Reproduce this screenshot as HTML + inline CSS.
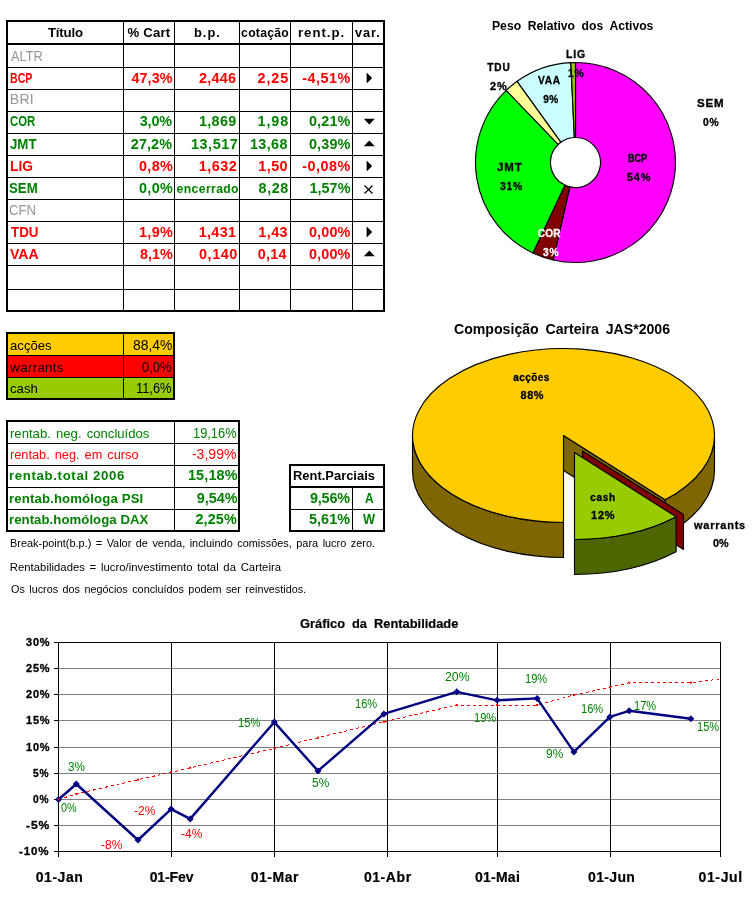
<!DOCTYPE html>
<html lang="pt"><head><meta charset="utf-8"><title>Carteira JAS*2006</title>
<style>
html,body{margin:0;padding:0;background:#fff;}
body{width:755px;height:900px;position:relative;overflow:hidden;font-family:"Liberation Sans",sans-serif;color:#000;}
.l{position:absolute;background:#000;}
.t{position:absolute;white-space:nowrap;line-height:1;transform-origin:0 0;font-family:"Liberation Sans",sans-serif;}
.f{position:absolute;}
svg{position:absolute;left:0;top:0;overflow:visible;}
</style></head>
<body>
<main>
<section id="tabela" aria-label="Tabela de títulos">
<div class="l" style="left:6px;top:20px;width:379px;height:2px;"></div>
<div class="l" style="left:6px;top:310px;width:379px;height:2px;"></div>
<div class="l" style="left:6px;top:20px;width:2px;height:292px;"></div>
<div class="l" style="left:383px;top:20px;width:2px;height:292px;"></div>
<div class="l" style="left:8px;top:43px;width:375px;height:2px;"></div>
<div class="l" style="left:8px;top:67px;width:375px;height:1px;"></div>
<div class="l" style="left:8px;top:89px;width:375px;height:1px;"></div>
<div class="l" style="left:8px;top:111px;width:375px;height:1px;"></div>
<div class="l" style="left:8px;top:133px;width:375px;height:1px;"></div>
<div class="l" style="left:8px;top:155px;width:375px;height:1px;"></div>
<div class="l" style="left:8px;top:177px;width:375px;height:1px;"></div>
<div class="l" style="left:8px;top:199px;width:375px;height:1px;"></div>
<div class="l" style="left:8px;top:221px;width:375px;height:1px;"></div>
<div class="l" style="left:8px;top:243px;width:375px;height:1px;"></div>
<div class="l" style="left:8px;top:265px;width:375px;height:1px;"></div>
<div class="l" style="left:8px;top:289px;width:375px;height:1px;"></div>
<div class="l" style="left:123px;top:22px;width:1px;height:288px;"></div>
<div class="l" style="left:174px;top:22px;width:1px;height:288px;"></div>
<div class="l" style="left:239px;top:22px;width:1px;height:288px;"></div>
<div class="l" style="left:290px;top:22px;width:1px;height:288px;"></div>
<div class="l" style="left:352px;top:22px;width:1px;height:288px;"></div>
<svg width="755" height="900" viewBox="0 0 755 900">
<polygon points="366.6,72.6 372.2,78 366.6,83.4" fill="#000"/>
<polygon points="363.8,118.8 374.8,118.8 369.3,124.39999999999999" fill="#000"/>
<polygon points="363.8,146.2 374.8,146.2 369.3,140.6" fill="#000"/>
<polygon points="366.6,160.6 372.2,166 366.6,171.4" fill="#000"/>
<path d="M364.5,185.5 L372.5,193.5 M372.5,185.5 L364.5,193.5" stroke="#000" stroke-width="1.2" fill="none"/>
<polygon points="366.6,226.6 372.2,232 366.6,237.4" fill="#000"/>
<polygon points="363.8,256.2 374.8,256.2 369.3,250.6" fill="#000"/>
</svg>
<div class="t" style="left:47.9px;top:26px;font-size:13.2px;font-weight:bold;letter-spacing:-0.16px;">Título</div>
<div class="t" style="left:127.4px;top:26px;font-size:13.2px;font-weight:bold;letter-spacing:0.22px;">% Cart</div>
<div class="t" style="left:194.0px;top:27px;font-size:12.2px;font-weight:bold;letter-spacing:0.91px;transform:scaleX(1.0596);">b.p.</div>
<div class="t" style="left:241.1px;top:27px;font-size:12.2px;font-weight:bold;letter-spacing:0.27px;">cotação</div>
<div class="t" style="left:297.7px;top:27px;font-size:12.2px;font-weight:bold;letter-spacing:0.91px;transform:scaleX(1.0799);">rent.p.</div>
<div class="t" style="left:355.0px;top:27px;font-size:12.2px;font-weight:bold;letter-spacing:0.91px;transform:scaleX(1.0464);">var.</div>
<div class="t" style="left:11.1px;top:49px;font-size:14px;color:#969696;transform:scaleX(0.9118);">ALTR</div>
<div class="t" style="left:9.7px;top:71px;font-size:14.4px;font-weight:bold;color:#ff0000;transform:scaleX(0.7345);">BCP</div>
<div class="t" style="left:9.7px;top:92px;font-size:14px;color:#969696;letter-spacing:0.35px;">BRI</div>
<div class="t" style="left:10.0px;top:114px;font-size:14.4px;font-weight:bold;color:#008000;transform:scaleX(0.7902);">COR</div>
<div class="t" style="left:10.3px;top:137px;font-size:14.4px;font-weight:bold;color:#008000;transform:scaleX(0.9207);">JMT</div>
<div class="t" style="left:9.7px;top:159px;font-size:14.4px;font-weight:bold;color:#ff0000;transform:scaleX(0.9556);">LIG</div>
<div class="t" style="left:9.3px;top:181px;font-size:14.4px;font-weight:bold;color:#008000;transform:scaleX(0.9207);">SEM</div>
<div class="t" style="left:9.0px;top:203px;font-size:14px;color:#969696;transform:scaleX(0.937);">CFN</div>
<div class="t" style="left:10.5px;top:225px;font-size:14.4px;font-weight:bold;color:#ff0000;transform:scaleX(0.9317);">TDU</div>
<div class="t" style="left:10.3px;top:247px;font-size:14.4px;font-weight:bold;color:#ff0000;transform:scaleX(0.9799);">VAA</div>
<div class="t" style="left:131.4px;top:71px;font-size:14.4px;font-weight:bold;color:#ff0000;letter-spacing:0.1px;">47,3%</div>
<div class="t" style="left:198.9px;top:71px;font-size:14.4px;font-weight:bold;color:#ff0000;letter-spacing:0.27px;">2,446</div>
<div class="t" style="left:257.6px;top:71px;font-size:14.4px;font-weight:bold;color:#ff0000;letter-spacing:0.87px;">2,25</div>
<div class="t" style="left:302.3px;top:71px;font-size:14.4px;font-weight:bold;color:#ff0000;letter-spacing:0.46px;">-4,51%</div>
<div class="t" style="left:139.8px;top:114px;font-size:14.4px;font-weight:bold;color:#008000;letter-spacing:-0.2px;">3,0%</div>
<div class="t" style="left:199.0px;top:114px;font-size:14.4px;font-weight:bold;color:#008000;letter-spacing:0.3px;">1,869</div>
<div class="t" style="left:257.6px;top:114px;font-size:14.4px;font-weight:bold;color:#008000;letter-spacing:0.87px;">1,98</div>
<div class="t" style="left:308.9px;top:114px;font-size:14.4px;font-weight:bold;color:#008000;letter-spacing:0.18px;">0,21%</div>
<div class="t" style="left:130.8px;top:137px;font-size:14.4px;font-weight:bold;color:#008000;letter-spacing:0.1px;">27,2%</div>
<div class="t" style="left:190.9px;top:137px;font-size:14.4px;font-weight:bold;color:#008000;letter-spacing:0.58px;">13,517</div>
<div class="t" style="left:250.0px;top:137px;font-size:14.4px;font-weight:bold;color:#008000;letter-spacing:0.35px;">13,68</div>
<div class="t" style="left:308.9px;top:137px;font-size:14.4px;font-weight:bold;color:#008000;letter-spacing:0.18px;">0,39%</div>
<div class="t" style="left:139.0px;top:159px;font-size:14.4px;font-weight:bold;color:#ff0000;letter-spacing:0.33px;">0,8%</div>
<div class="t" style="left:198.7px;top:159px;font-size:14.4px;font-weight:bold;color:#ff0000;letter-spacing:0.5px;">1,632</div>
<div class="t" style="left:258.2px;top:159px;font-size:14.4px;font-weight:bold;color:#ff0000;letter-spacing:0.47px;">1,50</div>
<div class="t" style="left:302.3px;top:159px;font-size:14.4px;font-weight:bold;color:#ff0000;letter-spacing:0.46px;">-0,08%</div>
<div class="t" style="left:139.0px;top:181px;font-size:14.4px;font-weight:bold;color:#008000;letter-spacing:0.33px;">0,0%</div>
<div class="t" style="left:176.6px;top:183px;font-size:12.2px;font-weight:bold;color:#008000;letter-spacing:0.38px;">encerrado</div>
<div class="t" style="left:258.6px;top:181px;font-size:14.4px;font-weight:bold;color:#008000;letter-spacing:0.53px;">8,28</div>
<div class="t" style="left:309.5px;top:181px;font-size:14.4px;font-weight:bold;color:#008000;letter-spacing:0.03px;">1,57%</div>
<div class="t" style="left:139.0px;top:225px;font-size:14.4px;font-weight:bold;color:#ff0000;letter-spacing:0.33px;">1,9%</div>
<div class="t" style="left:198.7px;top:225px;font-size:14.4px;font-weight:bold;color:#ff0000;letter-spacing:0.33px;">1,431</div>
<div class="t" style="left:258.2px;top:225px;font-size:14.4px;font-weight:bold;color:#ff0000;letter-spacing:0.47px;">1,43</div>
<div class="t" style="left:308.9px;top:225px;font-size:14.4px;font-weight:bold;color:#ff0000;letter-spacing:0.18px;">0,00%</div>
<div class="t" style="left:140.0px;top:247px;font-size:14.4px;font-weight:bold;color:#ff0000;">8,1%</div>
<div class="t" style="left:199.1px;top:247px;font-size:14.4px;font-weight:bold;color:#ff0000;letter-spacing:0.52px;">0,140</div>
<div class="t" style="left:257.8px;top:247px;font-size:14.4px;font-weight:bold;color:#ff0000;letter-spacing:0.27px;">0,14</div>
<div class="t" style="left:308.9px;top:247px;font-size:14.4px;font-weight:bold;color:#ff0000;letter-spacing:0.18px;">0,00%</div>
</section>
<section id="composicao" aria-label="Composição da carteira">
<div class="f" style="left:8px;top:334px;width:165px;height:21px;background:#ffcc00;"></div>
<div class="f" style="left:8px;top:356px;width:165px;height:21px;background:#ff0000;"></div>
<div class="f" style="left:8px;top:378px;width:165px;height:20px;background:#99cc00;"></div>
<div class="l" style="left:6px;top:332px;width:169px;height:2px;"></div>
<div class="l" style="left:6px;top:398px;width:169px;height:2px;"></div>
<div class="l" style="left:6px;top:332px;width:2px;height:68px;"></div>
<div class="l" style="left:173px;top:332px;width:2px;height:68px;"></div>
<div class="l" style="left:8px;top:355px;width:165px;height:1px;"></div>
<div class="l" style="left:8px;top:377px;width:165px;height:1px;"></div>
<div class="l" style="left:123px;top:334px;width:1px;height:64px;"></div>
<div class="t" style="left:9.7px;top:339px;font-size:13.33px;transform:scaleX(0.9857);">acções</div>
<div class="t" style="left:10.3px;top:361px;font-size:13.33px;letter-spacing:0.3px;">warrants</div>
<div class="t" style="left:9.7px;top:382px;font-size:13.33px;transform:scaleX(0.9923);">cash</div>
<div class="t" style="left:132.5px;top:338px;font-size:14px;transform:scaleX(0.9921);">88,4%</div>
<div class="t" style="left:141.8px;top:360px;font-size:14px;transform:scaleX(0.9294);">0,0%</div>
<div class="t" style="left:136.3px;top:381px;font-size:14px;transform:scaleX(0.9162);">11,6%</div>
</section>
<section id="rentab" aria-label="Rentabilidades">
<div class="l" style="left:6px;top:420px;width:234px;height:2px;"></div>
<div class="l" style="left:6px;top:530px;width:234px;height:2px;"></div>
<div class="l" style="left:6px;top:420px;width:2px;height:112px;"></div>
<div class="l" style="left:238px;top:420px;width:2px;height:112px;"></div>
<div class="l" style="left:8px;top:443px;width:230px;height:1px;"></div>
<div class="l" style="left:8px;top:465px;width:230px;height:1px;"></div>
<div class="l" style="left:8px;top:487px;width:230px;height:1px;"></div>
<div class="l" style="left:8px;top:509px;width:230px;height:1px;"></div>
<div class="l" style="left:174px;top:422px;width:1px;height:108px;"></div>
<div class="l" style="left:289px;top:464px;width:96px;height:2px;"></div>
<div class="l" style="left:289px;top:530px;width:96px;height:2px;"></div>
<div class="l" style="left:289px;top:464px;width:2px;height:68px;"></div>
<div class="l" style="left:383px;top:464px;width:2px;height:68px;"></div>
<div class="l" style="left:291px;top:486px;width:92px;height:2px;"></div>
<div class="l" style="left:291px;top:509px;width:92px;height:1px;"></div>
<div class="l" style="left:352px;top:488px;width:1px;height:42px;"></div>
<div class="t" style="left:9.6px;top:427px;font-size:13.33px;color:#008000;word-spacing:1.5px;transform:scaleX(0.985);">rentab. neg. concluídos</div>
<div class="t" style="left:9.6px;top:448px;font-size:13.33px;color:#ff0000;word-spacing:1.5px;transform:scaleX(0.9579);">rentab. neg. em curso</div>
<div class="t" style="left:9.0px;top:469px;font-size:13.2px;font-weight:bold;color:#008000;letter-spacing:0.66px;">rentab.total 2006</div>
<div class="t" style="left:9.0px;top:492px;font-size:13.2px;font-weight:bold;color:#008000;letter-spacing:0.13px;">rentab.homóloga PSI</div>
<div class="t" style="left:9.0px;top:513px;font-size:13.2px;font-weight:bold;color:#008000;letter-spacing:0.05px;">rentab.homóloga DAX</div>
<div class="t" style="left:192.9px;top:426px;font-size:14px;color:#008000;transform:scaleX(0.9174);">19,16%</div>
<div class="t" style="left:191.9px;top:447px;font-size:14px;color:#ff0000;letter-spacing:0.04px;">-3,99%</div>
<div class="t" style="left:187.9px;top:468px;font-size:14.4px;font-weight:bold;color:#008000;letter-spacing:0.18px;">15,18%</div>
<div class="t" style="left:196.8px;top:491px;font-size:14.4px;font-weight:bold;color:#008000;">9,54%</div>
<div class="t" style="left:195.4px;top:512px;font-size:14.4px;font-weight:bold;color:#008000;letter-spacing:0.15px;">2,25%</div>
<div class="t" style="left:292.8px;top:469px;font-size:13.2px;font-weight:bold;transform:scaleX(0.9805);">Rent.Parciais</div>
<div class="t" style="left:309.9px;top:491px;font-size:14.4px;font-weight:bold;color:#008000;letter-spacing:-0.15px;">9,56%</div>
<div class="t" style="left:365.0px;top:491px;font-size:14.4px;font-weight:bold;color:#008000;transform:scaleX(0.83);">A</div>
<div class="t" style="left:308.9px;top:512px;font-size:14.4px;font-weight:bold;color:#008000;letter-spacing:0.1px;">5,61%</div>
<div class="t" style="left:363.0px;top:512px;font-size:14.4px;font-weight:bold;color:#008000;transform:scaleX(0.8857);">W</div>
</section>
<section id="notas" aria-label="Notas">
<div class="t" style="left:9.8px;top:538px;font-size:11.3px;word-spacing:1.5px;transform:scaleX(0.9662);">Break-point(b.p.) = Valor de venda, incluindo comissões, para lucro zero.</div>
<div class="t" style="left:9.8px;top:562px;font-size:11.3px;letter-spacing:0.03px;word-spacing:1.5px;">Rentabilidades = lucro/investimento total da Carteira</div>
<div class="t" style="left:10.8px;top:584px;font-size:11.3px;word-spacing:1.5px;transform:scaleX(0.9577);">Os lucros dos negócios concluídos podem ser reinvestidos.</div>
</section>
<section id="donut" aria-label="Peso Relativo dos Activos">
<svg width="755" height="900" viewBox="0 0 755 900">
<g stroke="#000" stroke-width="1.15" stroke-linejoin="round">
<path d="M575.50,62.50 A100,100 0 1 1 553.09,259.96 L569.90,186.86 A25,25 0 1 0 575.50,137.50 Z" fill="#ff00ff"/>
<path d="M553.09,259.96 A100,100 0 0 1 532.94,252.99 L564.86,185.12 A25,25 0 0 0 569.90,186.86 Z" fill="#800000"/>
<path d="M532.94,252.99 A100,100 0 0 1 506.22,90.39 L558.18,144.47 A25,25 0 0 0 564.86,185.12 Z" fill="#00ff00"/>
<path d="M506.22,90.39 A100,100 0 0 1 517.15,81.29 L560.91,142.20 A25,25 0 0 0 558.18,144.47 Z" fill="#ffff99"/>
<path d="M517.15,81.29 A100,100 0 0 1 570.87,62.61 L574.34,137.53 A25,25 0 0 0 560.91,142.20 Z" fill="#ccffff"/>
<path d="M570.87,62.61 A100,100 0 0 1 575.50,62.50 L575.50,137.50 A25,25 0 0 0 574.34,137.53 Z" fill="#99cc00"/>
</g>
</svg>
<div class="t" style="left:491.8px;top:19px;font-size:13.3px;font-weight:bold;word-spacing:3.5px;transform:scaleX(0.9155);">Peso Relativo dos Activos</div>
<div class="t" style="left:566.0px;top:50px;font-size:10.1px;font-weight:bold;letter-spacing:0.76px;-webkit-text-stroke:0.3px;transform:scaleX(1.0381);">LIG</div>
<div class="t" style="left:568.3px;top:69px;font-size:10.1px;font-weight:bold;letter-spacing:0.76px;-webkit-text-stroke:0.3px;transform:scaleX(1.0344);">1%</div>
<div class="t" style="left:487.3px;top:63px;font-size:10.1px;font-weight:bold;letter-spacing:0.9px;-webkit-text-stroke:0.3px;">TDU</div>
<div class="t" style="left:490.1px;top:82px;font-size:10.1px;font-weight:bold;letter-spacing:0.76px;-webkit-text-stroke:0.3px;transform:scaleX(1.0808);">2%</div>
<div class="t" style="left:538.4px;top:76px;font-size:10.1px;font-weight:bold;letter-spacing:0.76px;-webkit-text-stroke:0.3px;transform:scaleX(1.004);">VAA</div>
<div class="t" style="left:543.2px;top:95px;font-size:10.1px;font-weight:bold;letter-spacing:0.4px;-webkit-text-stroke:0.3px;">9%</div>
<div class="t" style="left:697.1px;top:99px;font-size:10.1px;font-weight:bold;letter-spacing:0.76px;-webkit-text-stroke:0.3px;transform:scaleX(1.1411);">SEM</div>
<div class="t" style="left:702.9px;top:118px;font-size:10.1px;font-weight:bold;letter-spacing:0.76px;-webkit-text-stroke:0.3px;transform:scaleX(1.0217);">0%</div>
<div class="t" style="left:627.9px;top:154px;font-size:10.1px;font-weight:bold;-webkit-text-stroke:0.3px;transform:scaleX(0.9);">BCP</div>
<div class="t" style="left:626.9px;top:173px;font-size:10.1px;font-weight:bold;letter-spacing:0.76px;-webkit-text-stroke:0.3px;transform:scaleX(1.0737);">54%</div>
<div class="t" style="left:497.3px;top:163px;font-size:10.1px;font-weight:bold;letter-spacing:0.76px;-webkit-text-stroke:0.3px;transform:scaleX(1.1352);">JMT</div>
<div class="t" style="left:500.0px;top:182px;font-size:10.1px;font-weight:bold;letter-spacing:0.76px;-webkit-text-stroke:0.3px;transform:scaleX(1.0236);">31%</div>
<div class="t" style="left:537.8px;top:229px;font-size:10.1px;font-weight:bold;color:#ffffff;letter-spacing:0.1px;-webkit-text-stroke:0.3px;">COR</div>
<div class="t" style="left:542.9px;top:248px;font-size:10.1px;font-weight:bold;color:#ffffff;letter-spacing:0.76px;-webkit-text-stroke:0.3px;transform:scaleX(1.009);">3%</div>
</section>
<section id="pie" aria-label="Composição Carteira">
<svg width="755" height="900" viewBox="0 0 755 900">
<g stroke="#000" stroke-width="1.15" stroke-linejoin="round">
<path d="M412.5,435.5 A151,87 0 0 0 563.5,522.5 L563.5,557.5 A151,87 0 0 1 412.5,470.5 Z" fill="#806600"/>
<path d="M665.12,499.85 A151,87 0 0 0 714.5,435.5 L714.5,470.5 A151,87 0 0 1 665.12,534.85 Z" fill="#806600"/>
<polygon points="563.5,435.5 665.12,499.85 665.12,534.85 563.5,470.5" fill="#806600"/>
<path d="M563.5,435.5 L563.5,522.5 A151,87 0 1 1 665.12,499.85 Z" fill="#ffcc00"/>
<polygon points="582.5,451 683.5,514.4 683.5,549.4 582.5,486" fill="#800000"/>
<path d="M574.5,539.5 A151,87 0 0 0 676.12,516.85 L676.12,551.85 A151,87 0 0 1 574.5,574.5 Z" fill="#4d6600"/>
<path d="M574.5,452.5 L574.5,539.5 A151,87 0 0 0 676.12,516.85 Z" fill="#99cc00"/>
</g>
</svg>
<div class="t" style="left:454.3px;top:322px;font-size:14.6px;font-weight:bold;word-spacing:3px;transform:scaleX(0.9671);">Composição Carteira JAS*2006</div>
<div class="t" style="left:513.2px;top:373px;font-size:10px;font-weight:bold;letter-spacing:0.46px;-webkit-text-stroke:0.3px;">acções</div>
<div class="t" style="left:520.6px;top:390px;font-size:10.9px;font-weight:bold;letter-spacing:0.5px;-webkit-text-stroke:0.3px;">88%</div>
<div class="t" style="left:590.3px;top:493px;font-size:10px;font-weight:bold;letter-spacing:0.7px;-webkit-text-stroke:0.3px;">cash</div>
<div class="t" style="left:590.8px;top:510px;font-size:10.9px;font-weight:bold;letter-spacing:0.82px;-webkit-text-stroke:0.3px;transform:scaleX(1.007);">12%</div>
<div class="t" style="left:693.8px;top:521px;font-size:10px;font-weight:bold;letter-spacing:0.75px;-webkit-text-stroke:0.3px;transform:scaleX(1.09);">warrants</div>
<div class="t" style="left:713.0px;top:538px;font-size:10.9px;font-weight:bold;-webkit-text-stroke:0.3px;transform:scaleX(0.9875);">0%</div>
</section>
<section id="linha" aria-label="Gráfico da Rentabilidade">
<svg width="755" height="900" viewBox="0 0 755 900">
<g shape-rendering="crispEdges">
<rect x="58" y="668" width="663" height="1" fill="#808080"/>
<rect x="58" y="694" width="663" height="1" fill="#808080"/>
<rect x="58" y="720" width="663" height="1" fill="#808080"/>
<rect x="58" y="747" width="663" height="1" fill="#808080"/>
<rect x="58" y="773" width="663" height="1" fill="#808080"/>
<rect x="58" y="799" width="663" height="1" fill="#808080"/>
<rect x="58" y="825" width="663" height="1" fill="#808080"/>
<rect x="58" y="642" width="1" height="215" fill="#000"/>
<rect x="171" y="642" width="1" height="215" fill="#000"/>
<rect x="274" y="642" width="1" height="215" fill="#000"/>
<rect x="387" y="642" width="1" height="215" fill="#000"/>
<rect x="497" y="642" width="1" height="215" fill="#000"/>
<rect x="610" y="642" width="1" height="215" fill="#000"/>
<rect x="720" y="642" width="1" height="215" fill="#000"/>
<rect x="58" y="642" width="663" height="1" fill="#000"/>
<rect x="58" y="851" width="663" height="1" fill="#000"/>
<rect x="54" y="642" width="4" height="1" fill="#000"/>
<rect x="54" y="668" width="4" height="1" fill="#000"/>
<rect x="54" y="694" width="4" height="1" fill="#000"/>
<rect x="54" y="720" width="4" height="1" fill="#000"/>
<rect x="54" y="747" width="4" height="1" fill="#000"/>
<rect x="54" y="773" width="4" height="1" fill="#000"/>
<rect x="54" y="799" width="4" height="1" fill="#000"/>
<rect x="54" y="825" width="4" height="1" fill="#000"/>
<rect x="54" y="851" width="4" height="1" fill="#000"/>
</g>
<polyline points="58.5,799.5 76.3,794.0 138,779.7 171.1,772.3 190.2,767.8 274.5,748.3 318,737.7 383.9,721.9 456.8,705 497.1,705 537.1,705 573.9,695 609.9,687.3 629.2,682.7 690.9,682.7 720.8,678.8" fill="none" stroke="#ff0000" stroke-width="1" stroke-dasharray="3,3" shape-rendering="crispEdges"/>
<rect x="57.5" y="798.5" width="2" height="2" fill="#ff0000"/>
<rect x="75.3" y="793.0" width="2" height="2" fill="#ff0000"/>
<rect x="137.0" y="778.7" width="2" height="2" fill="#ff0000"/>
<rect x="170.1" y="771.3" width="2" height="2" fill="#ff0000"/>
<rect x="189.2" y="766.8" width="2" height="2" fill="#ff0000"/>
<rect x="273.5" y="747.3" width="2" height="2" fill="#ff0000"/>
<rect x="317.0" y="736.7" width="2" height="2" fill="#ff0000"/>
<rect x="382.9" y="720.9" width="2" height="2" fill="#ff0000"/>
<rect x="455.8" y="704.0" width="2" height="2" fill="#ff0000"/>
<rect x="496.1" y="704.0" width="2" height="2" fill="#ff0000"/>
<rect x="536.1" y="704.0" width="2" height="2" fill="#ff0000"/>
<rect x="572.9" y="694.0" width="2" height="2" fill="#ff0000"/>
<rect x="608.9" y="686.3" width="2" height="2" fill="#ff0000"/>
<rect x="628.2" y="681.7" width="2" height="2" fill="#ff0000"/>
<rect x="689.9" y="681.7" width="2" height="2" fill="#ff0000"/>
<polyline points="58.5,799.5 76.3,784 138,840 171.1,809.1 190.2,818.9 274.3,722.1 318,770.9 383.9,713.9 456.8,691.8 497.1,700.3 537.1,698.4 573.9,751.9 609.9,716.9 629.2,710.8 690.9,718.8" fill="none" stroke="#000080" stroke-width="2.4" stroke-linejoin="round"/>
<polygon points="72.8,784 76.3,780.5 79.8,784 76.3,787.5" fill="#000080"/>
<polygon points="134.5,840 138,836.5 141.5,840 138,843.5" fill="#000080"/>
<polygon points="167.6,809.1 171.1,805.6 174.6,809.1 171.1,812.6" fill="#000080"/>
<polygon points="186.7,818.9 190.2,815.4 193.7,818.9 190.2,822.4" fill="#000080"/>
<polygon points="270.8,722.1 274.3,718.6 277.8,722.1 274.3,725.6" fill="#000080"/>
<polygon points="314.5,770.9 318,767.4 321.5,770.9 318,774.4" fill="#000080"/>
<polygon points="380.4,713.9 383.9,710.4 387.4,713.9 383.9,717.4" fill="#000080"/>
<polygon points="453.3,691.8 456.8,688.3 460.3,691.8 456.8,695.3" fill="#000080"/>
<polygon points="493.6,700.3 497.1,696.8 500.6,700.3 497.1,703.8" fill="#000080"/>
<polygon points="533.6,698.4 537.1,694.9 540.6,698.4 537.1,701.9" fill="#000080"/>
<polygon points="570.4,751.9 573.9,748.4 577.4,751.9 573.9,755.4" fill="#000080"/>
<polygon points="606.4,716.9 609.9,713.4 613.4,716.9 609.9,720.4" fill="#000080"/>
<polygon points="625.7,710.8 629.2,707.3 632.7,710.8 629.2,714.3" fill="#000080"/>
<polygon points="687.4,718.8 690.9,715.3 694.4,718.8 690.9,722.3" fill="#000080"/>
<polygon points="55,799.5 58.5,796 62,799.5 58.5,803" fill="#000080"/>
<rect x="57.5" y="798.5" width="2" height="2" fill="#ff0000"/>
</svg>
<div class="t" style="left:300.1px;top:617px;font-size:13.3px;font-weight:bold;word-spacing:3.5px;-webkit-text-stroke:0.2px;transform:scaleX(0.9675);">Gráfico da Rentabilidade</div>
<div class="t" style="left:25.7px;top:638px;font-size:10.1px;font-weight:bold;letter-spacing:0.76px;-webkit-text-stroke:0.3px;transform:scaleX(1.083);">30%</div>
<div class="t" style="left:25.7px;top:664px;font-size:10.1px;font-weight:bold;letter-spacing:0.76px;-webkit-text-stroke:0.3px;transform:scaleX(1.083);">25%</div>
<div class="t" style="left:25.7px;top:690px;font-size:10.1px;font-weight:bold;letter-spacing:0.76px;-webkit-text-stroke:0.3px;transform:scaleX(1.083);">20%</div>
<div class="t" style="left:25.7px;top:716px;font-size:10.1px;font-weight:bold;letter-spacing:0.76px;-webkit-text-stroke:0.3px;transform:scaleX(1.083);">15%</div>
<div class="t" style="left:25.7px;top:743px;font-size:10.1px;font-weight:bold;letter-spacing:0.76px;-webkit-text-stroke:0.3px;transform:scaleX(1.083);">10%</div>
<div class="t" style="left:33.1px;top:769px;font-size:10.1px;font-weight:bold;letter-spacing:0.76px;-webkit-text-stroke:0.3px;transform:scaleX(1.009);">5%</div>
<div class="t" style="left:33.1px;top:795px;font-size:10.1px;font-weight:bold;letter-spacing:0.76px;-webkit-text-stroke:0.3px;transform:scaleX(1.009);">0%</div>
<div class="t" style="left:25.7px;top:821px;font-size:10.1px;font-weight:bold;letter-spacing:0.76px;-webkit-text-stroke:0.3px;transform:scaleX(1.194);">-5%</div>
<div class="t" style="left:19.0px;top:847px;font-size:10.1px;font-weight:bold;letter-spacing:0.76px;-webkit-text-stroke:0.3px;transform:scaleX(1.1419);">-10%</div>
<div class="t" style="left:35.8px;top:870px;font-size:14px;font-weight:bold;letter-spacing:0.52px;-webkit-text-stroke:0.2px;">01-Jan</div>
<div class="t" style="left:149.7px;top:870px;font-size:14px;font-weight:bold;letter-spacing:-0.12px;-webkit-text-stroke:0.2px;">01-Fev</div>
<div class="t" style="left:250.7px;top:870px;font-size:14px;font-weight:bold;letter-spacing:0.52px;-webkit-text-stroke:0.2px;">01-Mar</div>
<div class="t" style="left:363.9px;top:870px;font-size:14px;font-weight:bold;letter-spacing:0.58px;-webkit-text-stroke:0.2px;">01-Abr</div>
<div class="t" style="left:475.0px;top:870px;font-size:14px;font-weight:bold;letter-spacing:0.24px;-webkit-text-stroke:0.2px;">01-Mai</div>
<div class="t" style="left:588.1px;top:870px;font-size:14px;font-weight:bold;letter-spacing:0.34px;-webkit-text-stroke:0.2px;">01-Jun</div>
<div class="t" style="left:698.6px;top:870px;font-size:14px;font-weight:bold;letter-spacing:0.6px;-webkit-text-stroke:0.2px;">01-Jul</div>
<div class="t" style="left:67.6px;top:761px;font-size:12px;color:#008000;transform:scaleX(0.9765);">3%</div>
<div class="t" style="left:60.7px;top:802px;font-size:12px;color:#008000;transform:scaleX(0.9);">0%</div>
<div class="t" style="left:134.0px;top:805px;font-size:12px;color:#ff0000;letter-spacing:0.1px;">-2%</div>
<div class="t" style="left:101.0px;top:839px;font-size:12px;color:#ff0000;letter-spacing:0.05px;">-8%</div>
<div class="t" style="left:181.0px;top:828px;font-size:12px;color:#ff0000;letter-spacing:0.05px;">-4%</div>
<div class="t" style="left:238.3px;top:717px;font-size:12px;color:#008000;transform:scaleX(0.9315);">15%</div>
<div class="t" style="left:312.4px;top:777px;font-size:12px;color:#008000;transform:scaleX(0.9938);">5%</div>
<div class="t" style="left:355.4px;top:698px;font-size:12px;color:#008000;transform:scaleX(0.9225);">16%</div>
<div class="t" style="left:444.7px;top:671px;font-size:12px;color:#008000;transform:scaleX(1.0274);">20%</div>
<div class="t" style="left:525.0px;top:673px;font-size:12px;color:#008000;transform:scaleX(0.9217);">19%</div>
<div class="t" style="left:474.1px;top:712px;font-size:12px;color:#008000;transform:scaleX(0.9217);">19%</div>
<div class="t" style="left:545.6px;top:748px;font-size:12px;color:#008000;transform:scaleX(0.9937);">9%</div>
<div class="t" style="left:581.2px;top:703px;font-size:12px;color:#008000;transform:scaleX(0.9217);">16%</div>
<div class="t" style="left:634.0px;top:700px;font-size:12px;color:#008000;transform:scaleX(0.9217);">17%</div>
<div class="t" style="left:697.0px;top:721px;font-size:12px;color:#008000;transform:scaleX(0.9217);">15%</div>
</section>
</main>
</body></html>
